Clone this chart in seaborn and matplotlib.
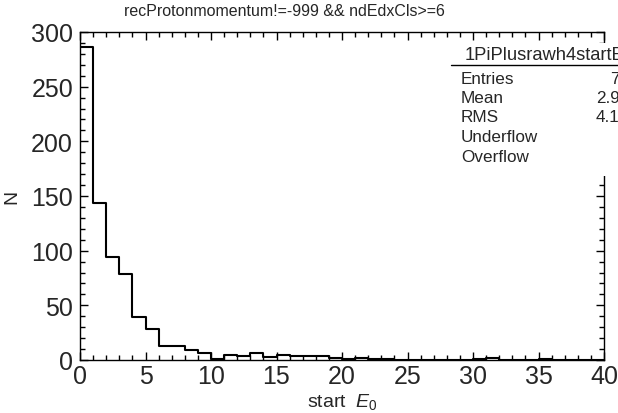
import numpy as np
import pandas as pd
import matplotlib
matplotlib.use("Agg")
import matplotlib.pyplot as plt
from matplotlib.patches import Rectangle
from matplotlib.lines import Line2D
from matplotlib.ticker import MultipleLocator
import seaborn as sns

# Histogram contents: 40 unit-wide bins of start E0 from 0 to 40
bin_edges = list(range(0, 41))
counts = [286, 144, 94, 79, 39, 28, 13, 13, 9, 6,
          1, 5, 4, 6, 3, 5, 4, 4, 4, 2,
          1, 2, 1, 1, 0, 0, 0, 0, 0, 0,
          1, 2, 0, 0, 0, 1, 0, 0, 0, 0]

title = "recProtonmomentum!=-999 && ndEdxCls>=6"
hist_name = "1PiPlusrawh4startE0"
stat_names = ["Entries", "Mean", "RMS", "Underflow", "Overflow"]
stat_values = ["758", "2.943", "4.126", "0", "0"]

sns.set_style("ticks")
plt.rcParams["font.family"] = ["Liberation Sans", "DejaVu Sans"]
plt.rcParams["mathtext.fontset"] = "custom"
plt.rcParams["mathtext.it"] = "Liberation Sans:italic"
plt.rcParams["mathtext.rm"] = "Liberation Sans"

W, H = 618, 414
fig = plt.figure(figsize=(W / 100, H / 100), dpi=100)
ax = fig.add_axes([80 / W, 1 - 361 / H, (604 - 80) / W, (361 - 33) / H])

centers = [e + 0.5 for e in bin_edges[:-1]]
df = pd.DataFrame({"E0": centers, "N": counts})
sns.histplot(data=df, x="E0", weights="N", bins=bin_edges, element="step",
             fill=False, color="black", linewidth=1.5, ax=ax)

ax.set_xlim(0, 40)
ax.set_ylim(0, 300)
ax.xaxis.set_major_locator(MultipleLocator(5))
ax.xaxis.set_minor_locator(MultipleLocator(1))
ax.yaxis.set_major_locator(MultipleLocator(50))
ax.yaxis.set_minor_locator(MultipleLocator(10))
ax.tick_params(which="both", direction="in", top=True, right=True,
               color="black", width=1)
ax.tick_params(which="major", length=6, labelsize=18, pad=3)
ax.tick_params(axis="y", which="major", pad=5)
ax.tick_params(which="minor", length=3.5)
for s in ax.spines.values():
    s.set_linewidth(1)
    s.set_color("black")

ax.set_xlabel("start  $E_{0}$", fontsize=14, labelpad=2)
ax.set_ylabel("N", fontsize=14, labelpad=8)
fig.text(284 / W, 1 - 12 / H, title, ha="center", va="center", fontsize=11.5)

# Statistics box in the upper-right corner, running past the figure edge
bx0, by_top, by_bot = 450, 44, 177
fig.patches.append(Rectangle((bx0 / W, 1 - by_bot / H), (W - bx0) / W + 0.1,
                             (by_bot - by_top) / H, transform=fig.transFigure,
                             facecolor="white", edgecolor="none", zorder=5))
fig.lines.append(Line2D([451 / W, 1.0], [1 - 66 / H, 1 - 66 / H],
                        transform=fig.transFigure, color="black", lw=1, zorder=6))
fig.text(465 / W, 1 - 56 / H, hist_name, ha="left", va="center",
         fontsize=13.2, zorder=7)
row_y = [80, 99, 118, 137, 158]
for name, val, y in zip(stat_names, stat_values, row_y):
    fig.text(461 / W, 1 - y / H, name, ha="left", va="center", fontsize=12.3, zorder=7)
    fig.text(639 / W, 1 - y / H, val, ha="right", va="center", fontsize=12.3, zorder=7)

fig.savefig("out.png", dpi=100)
